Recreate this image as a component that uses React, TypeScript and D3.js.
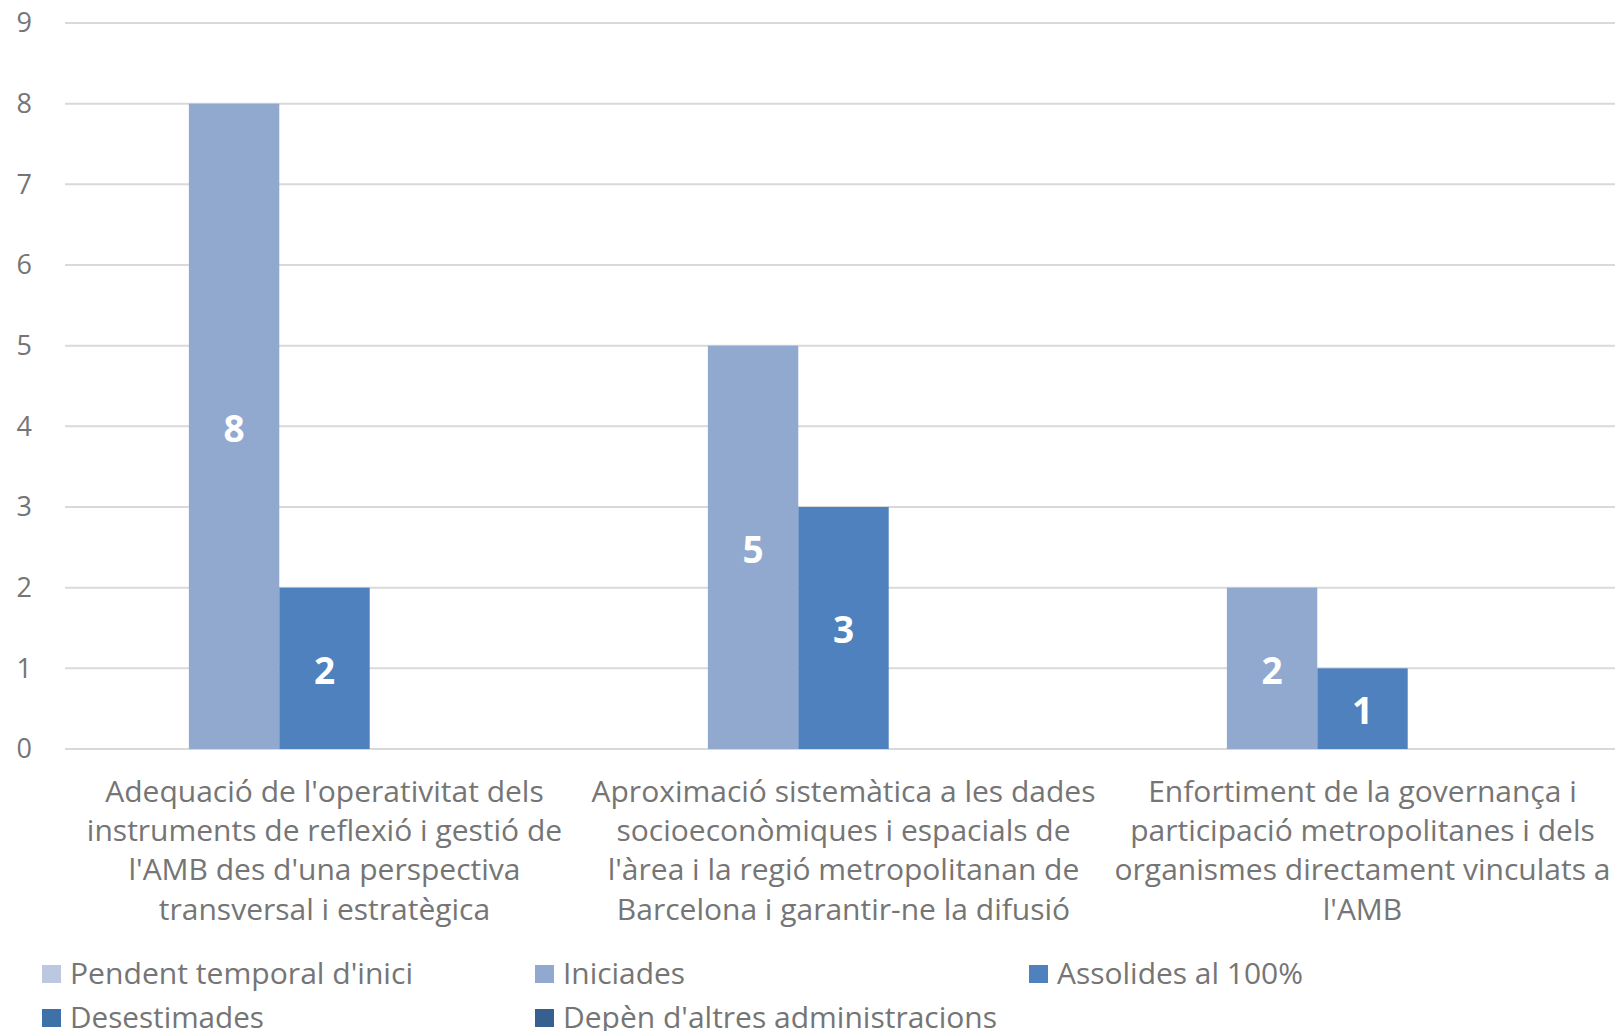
import React, { useEffect, useRef } from 'react';
import * as d3 from 'd3';

const categories = [
  ["Adequació de l'operativitat dels", "instruments de reflexió i gestió de", "l'AMB des d'una perspectiva", "transversal i estratègica"],
  ["Aproximació sistemàtica a les dades", "socioeconòmiques i espacials de", "l'àrea i la regió metropolitanan de", "Barcelona i garantir-ne la difusió"],
  ["Enfortiment de la governança i", "participació metropolitanes i dels", "organismes directament vinculats a", "l'AMB"],
];

const seriesNames = [
  "Pendent temporal d'inici",
  "Iniciades",
  "Assolides al 100%",
  "Desestimades",
  "Depèn d'altres administracions",
];

const pendent = [0, 0, 0];
const iniciades = [8, 5, 2];
const assolides = [2, 3, 1];
const desestimades = [0, 0, 0];
const depen = [0, 0, 0];

const yTicks = [0, 1, 2, 3, 4, 5, 6, 7, 8, 9];

const colors = ["#BCC8E0", "#91A9CF", "#4E81BD", "#3E71A8", "#375F90"];

const App: React.FC = () => {
  const ref = useRef<SVGSVGElement | null>(null);

  useEffect(() => {
    if (!ref.current) return;
    const W = 1615;
    const H = 1031;
    const svg = d3.select(ref.current);
    svg.selectAll('*').remove();

    // plot area (the last band runs slightly past the right edge, as in the source)
    const left = 65;
    const right = 1622;
    const top = 23;
    const bottom = 749;

    const values = [pendent, iniciades, assolides, desestimades, depen];
    const catIdx = categories.map((_, i) => String(i));

    const x0 = d3.scaleBand().domain(catIdx).range([left, right]).paddingInner(0).paddingOuter(0);
    const x1 = d3.scaleBand().domain(seriesNames).range([0, x0.bandwidth()]).paddingOuter(0.37).paddingInner(0);
    const y = d3.scaleLinear().domain([0, 9]).range([bottom, top]);

    const gray = '#757575';
    const font = "'Open Sans', sans-serif";

    // gridlines
    svg.append('g')
      .selectAll('line')
      .data(yTicks)
      .join('line')
      .attr('x1', left)
      .attr('x2', W)
      .attr('y1', d => y(d))
      .attr('y2', d => y(d))
      .attr('stroke', '#d9d9d9')
      .attr('stroke-width', 2);

    // y labels
    svg.append('g')
      .selectAll('text')
      .data(yTicks)
      .join('text')
      .attr('x', 32)
      .attr('y', d => y(d))
      .attr('dy', '0.35em')
      .attr('text-anchor', 'end')
      .attr('font-family', font)
      .attr('font-size', 27)
      .attr('fill', gray)
      .text(d => d);

    // bars
    const groups = svg.append('g')
      .selectAll('g')
      .data(catIdx)
      .join('g')
      .attr('transform', d => `translate(${x0(d)},0)`);

    const cells = groups.selectAll('g')
      .data((d, i) => seriesNames.map((s, k) => ({ s, k, v: values[k][i] })))
      .join('g');

    cells.filter(d => d.v > 0)
      .append('rect')
      .attr('x', d => x1(d.s) || 0)
      .attr('y', d => y(d.v))
      .attr('width', x1.bandwidth())
      .attr('height', d => y(0) - y(d.v))
      .attr('fill', d => colors[d.k]);

    cells.filter(d => d.v > 0)
      .append('text')
      .attr('x', d => (x1(d.s) || 0) + x1.bandwidth() / 2)
      .attr('y', d => (y(d.v) + y(0)) / 2 + 2)
      .attr('dy', '0.36em')
      .attr('text-anchor', 'middle')
      .attr('font-family', font)
      .attr('font-weight', 'bold')
      .attr('font-size', 37)
      .attr('fill', '#ffffff')
      .text(d => d.v);

    // category labels
    groups.each(function (d, i) {
      const g = d3.select(this);
      categories[i].forEach((line, j) => {
        g.append('text')
          .attr('x', x0.bandwidth() / 2)
          .attr('y', 791 + j * 39.4)
          .attr('dy', '0.35em')
          .attr('text-anchor', 'middle')
          .attr('font-family', font)
          .attr('font-size', 30)
          .attr('fill', gray)
          .text(line);
      });
    });

    // legend
    const legendPos = [
      { x: 42, y: 974, w: 343 },
      { x: 535, y: 974, w: 122 },
      { x: 1029, y: 974, w: 246 },
      { x: 42, y: 1018, w: 194 },
      { x: 535, y: 1018, w: 434 },
    ];
    const legend = svg.append('g')
      .selectAll('g')
      .data(seriesNames)
      .join('g')
      .attr('transform', (d, i) => `translate(${legendPos[i].x},${legendPos[i].y})`);

    legend.append('rect')
      .attr('x', 0)
      .attr('y', -9)
      .attr('width', 19)
      .attr('height', 18)
      .attr('fill', (d, i) => colors[i]);

    legend.append('text')
      .attr('x', 28)
      .attr('y', 0)
      .attr('dy', '0.36em')
      .attr('font-family', font)
      .attr('font-size', 29)
      .attr('fill', gray)
      .attr('textLength', (d, i) => legendPos[i].w)
      .attr('lengthAdjust', 'spacingAndGlyphs')
      .text(d => d);

    svg.attr('width', W).attr('height', H);
  }, []);

  return (
    <svg
      ref={ref}
      width={1615}
      height={1031}
      style={{ position: 'absolute', left: 0, top: 0, background: '#ffffff' }}
    />
  );
};

export default App;
